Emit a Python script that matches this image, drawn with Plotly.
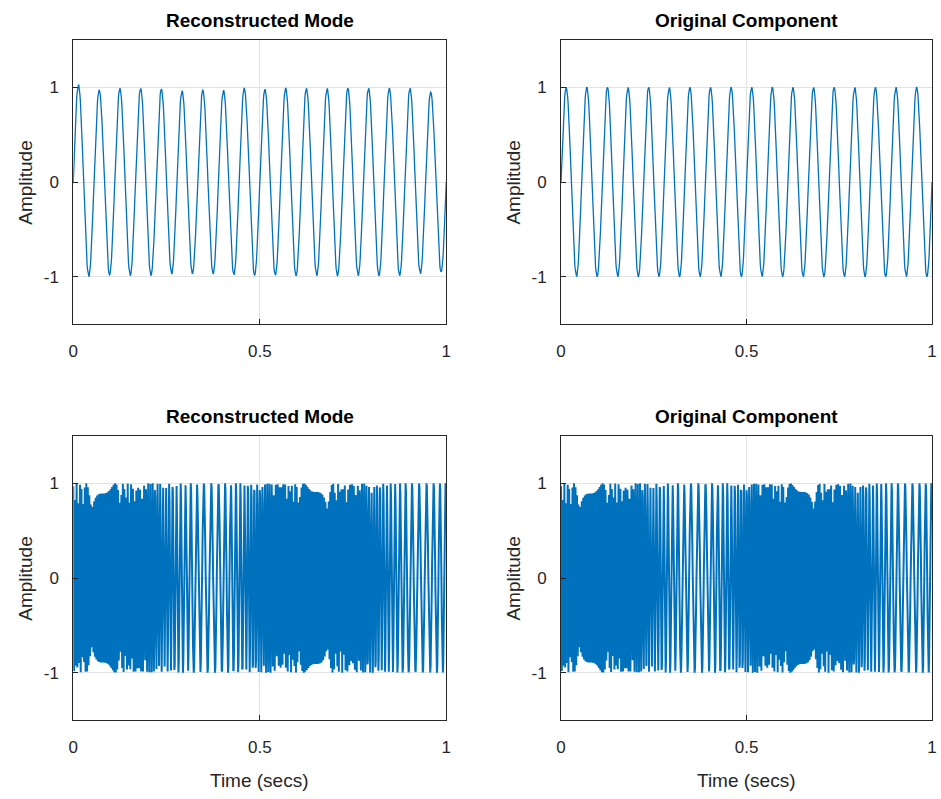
import numpy as np
import plotly.graph_objects as go

# ---- data parameters ----
fs = 1000                      # samples per second
t = np.arange(0, 1 + 1e-9, 1 / fs)
tone_freq = 18                 # Hz, count of cycles in top panels
recon_peak_amps = [1.03, 0.97, 0.99, 0.99, 0.98, 0.965, 0.97, 0.97, 0.99,
                   0.98, 0.99, 0.99, 0.99, 0.99, 0.99, 0.99, 0.99, 0.95]
fm_carrier = 150               # Hz, centre frequency of the modulated component
fm_dev = 100                   # Hz, frequency deviation
fm_rate = 1.75                 # Hz, modulation rate
fm_phase = 0.2226 * np.pi

titles = ["Reconstructed Mode", "Original Component",
          "Reconstructed Mode", "Original Component"]
x_ticks = [0, 0.5, 1]
x_tick_labels = ["0", "0.5", "1"]
y_ticks = [-1, 0, 1]
y_tick_labels = ["-1", "0", "1"]

# ---- signals ----
orig_tone = np.sin(2 * np.pi * tone_freq * t)
cycle_centres = (np.arange(len(recon_peak_amps)) + 0.25) / tone_freq
recon_tone = orig_tone * np.interp(t, cycle_centres, recon_peak_amps)
phase = fm_carrier * t - fm_dev / (2 * np.pi * fm_rate) * np.cos(2 * np.pi * fm_rate * t + fm_phase)
orig_fm = np.cos(2 * np.pi * phase)
recon_fm = orig_fm.copy()
series = [recon_tone, orig_tone, recon_fm, orig_fm]
widths = [1.3, 1.3, 2.0, 2.0]

W, H = 941, 799
xdoms = [(69 / W, 446 / W), (562 / W, 937 / W)]
ydoms = [(1 - 324 / H, 1 - 40 / H), (1 - 720 / H, 1 - 436 / H)]

fig = go.Figure()
FONT = "Liberation Sans, Arial, sans-serif"
annotations = []
for i, y in enumerate(series):
    r, c = divmod(i, 2)
    n = i + 1
    xa = "x" if n == 1 else f"x{n}"
    ya = "y" if n == 1 else f"y{n}"
    fig.add_trace(go.Scatter(x=t, y=y, mode="lines", xaxis=xa, yaxis=ya,
                             line=dict(color="#0072BD", width=widths[i]), showlegend=False,
                             hoverinfo="skip"))
    axcommon = dict(showline=True, mirror=True, linecolor="#262626", linewidth=1,
                    ticks="inside", ticklen=5, tickcolor="#262626",
                    showgrid=True, gridcolor="#e3e3e3", gridwidth=1, zeroline=False,
                    tickfont=dict(family=FONT, size=17, color="#262626"))
    fig.update_layout(**{
        ("xaxis" if n == 1 else f"xaxis{n}"): dict(
            domain=list(xdoms[c]), anchor=ya, range=[0, 1], tickvals=x_ticks,
            ticktext=x_tick_labels, ticklabelstandoff=12, **axcommon),
        ("yaxis" if n == 1 else f"yaxis{n}"): dict(
            domain=list(ydoms[r]), anchor=xa, range=[-1.5, 1.5], tickvals=y_ticks,
            ticktext=y_tick_labels, ticklabelstandoff=10, **axcommon),
    })
    xc = (xdoms[c][0] + xdoms[c][1]) / 2
    annotations.append(dict(text=f"<b>{titles[i]}</b>", x=xc, y=ydoms[r][1] + 20 / H,
                            xref="paper", yref="paper", xanchor="center", yanchor="middle",
                            showarrow=False, font=dict(family=FONT, size=19, color="black")))
    ymid = (ydoms[r][0] + ydoms[r][1]) / 2
    annotations.append(dict(text="Amplitude", x=(xdoms[c][0] - 49 / W), y=ymid,
                            xref="paper", yref="paper", xanchor="center", yanchor="middle",
                            textangle=-90, showarrow=False,
                            font=dict(family=FONT, size=19, color="#262626")))
    if r == 1:
        annotations.append(dict(text="Time (secs)", x=xc, y=1 - 780 / H,
                                xref="paper", yref="paper", xanchor="center", yanchor="middle",
                                showarrow=False, font=dict(family=FONT, size=19, color="#262626")))

fig.update_layout(width=W, height=H, margin=dict(l=0, r=0, t=0, b=0),
                  paper_bgcolor="white", plot_bgcolor="white",
                  annotations=annotations, hovermode=False)
fig.write_html("out.html", config={"displayModeBar": False, "staticPlot": True},
               post_script="document.body.style.margin='0px';document.body.style.overflow='hidden';")
